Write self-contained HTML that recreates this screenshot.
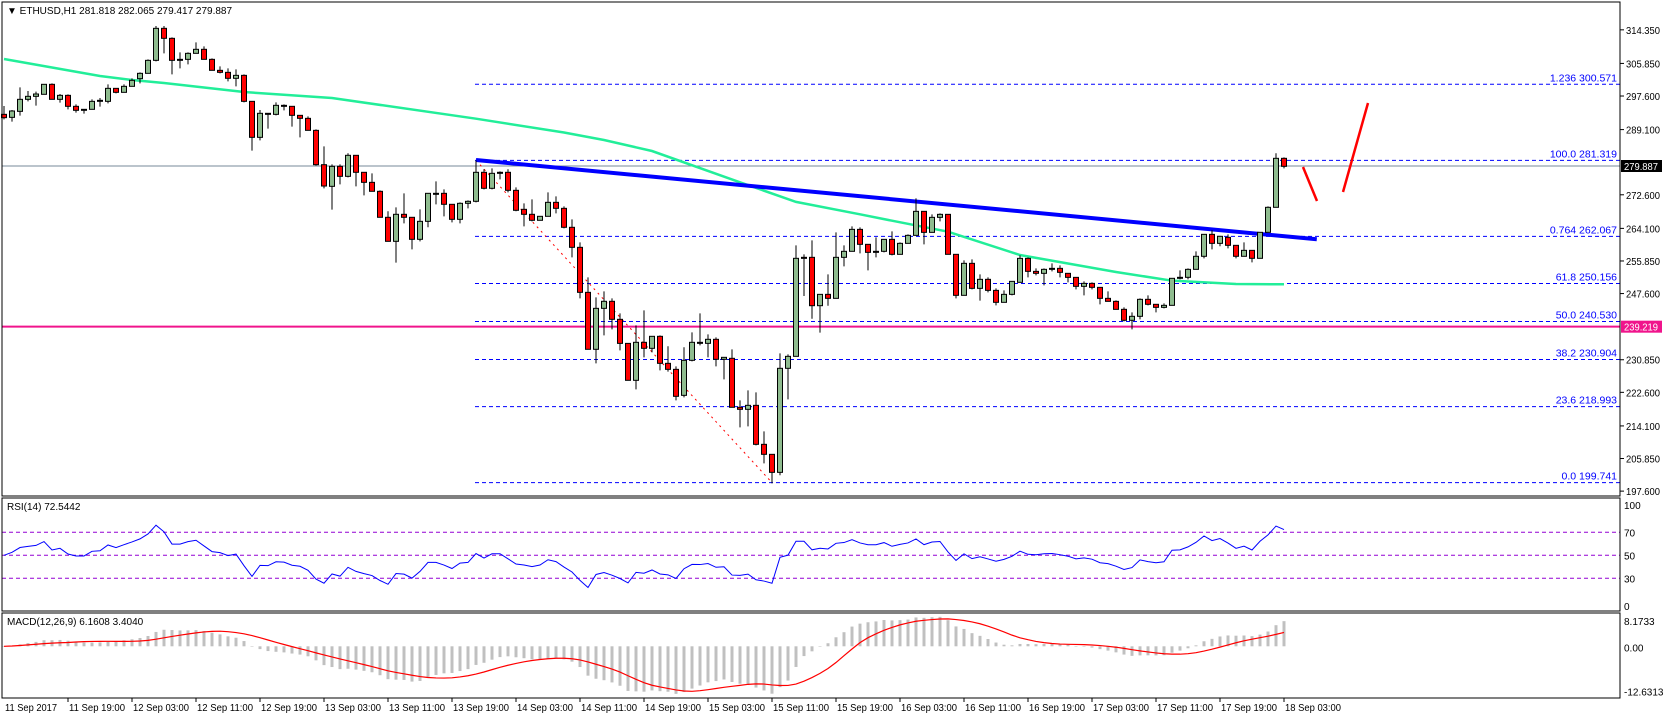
<!DOCTYPE html>
<html><head><meta charset="utf-8"><style>
html,body{margin:0;padding:0;background:#fff;}
svg{display:block;font-family:"Liberation Sans",sans-serif;}
</style></head><body>
<svg id="chart" width="1663" height="719" viewBox="0 0 1663 719" xmlns="http://www.w3.org/2000/svg">
<rect x="0" y="0" width="1663" height="719" fill="#fff"/>
<g id="main-g"></g>
<g id="rsi-g"></g>
<g id="macd-g"></g>
<g id="axis-g"></g>
<text x="7" y="14" font-size="10" fill="#000">▼ ETHUSD,H1  281.818 282.065 279.417 279.887</text>
</svg>
<script>
const opens=[292.96,292.20,293.72,296.76,297.52,298.03,300.56,296.76,297.77,294.99,294.23,294.23,296.34,296.25,299.54,298.53,300.05,301.99,303.34,306.63,314.73,312.20,306.88,306.88,308.40,309.42,306.88,304.10,303.59,302.08,302.83,296.25,287.14,293.22,292.96,295.24,294.99,292.71,291.95,288.91,280.22,274.74,279.80,277.27,282.59,278.29,275.75,273.48,266.90,260.82,267.66,266.90,261.33,265.88,272.97,272.97,270.19,266.39,270.44,270.95,278.29,274.24,278.29,278.29,273.73,268.92,267.66,266.14,267.15,270.69,269.17,264.37,259.30,247.91,233.49,243.86,245.64,241.08,234.99,225.64,235.26,233.74,236.78,229.94,228.42,221.84,230.70,235.26,235.00,236.02,230.96,231.21,218.81,218.30,219.31,209.44,206.91,202.35,228.68,231.71,256.77,256.77,244.53,247.40,246.39,256.77,258.29,263.85,260.06,258.29,258.29,261.32,257.53,260.31,262.33,268.41,263.09,266.89,267.65,257.53,247.15,255.25,248.92,251.20,248.41,245.38,247.40,250.44,256.51,253.22,252.72,253.73,253.98,252.72,251.70,249.43,250.18,249.17,246.39,245.63,243.61,240.83,241.84,246.14,244.88,244.11,244.62,251.46,251.71,253.73,257.03,262.59,260.31,261.83,259.81,257.03,258.54,256.52,263.10,269.43,281.83];
const highs=[295.07,294.06,299.80,298.87,298.70,300.56,300.81,298.11,298.03,295.49,294.23,296.76,297.10,300.56,299.54,300.56,302.08,303.59,306.88,315.32,315.32,312.45,308.66,308.66,311.19,310.17,307.14,305.11,304.61,304.35,303.09,296.25,294.06,293.22,296.00,295.49,294.99,292.71,292.46,289.17,284.86,280.31,280.31,283.10,282.59,278.29,278.03,273.73,268.42,269.43,272.97,266.90,268.92,272.97,276.01,273.98,270.19,270.69,271.20,281.32,279.05,279.30,278.54,279.05,274.49,270.44,271.45,267.15,273.22,272.21,269.68,266.39,260.57,251.71,246.65,248.17,246.39,242.60,234.99,239.56,243.36,236.78,237.03,234.25,229.18,234.00,237.79,242.60,237.28,236.52,231.46,233.49,220.58,223.11,222.60,212.73,206.91,232.47,232.22,259.81,257.53,261.07,247.40,252.46,263.09,259.80,264.61,264.36,260.06,261.83,261.32,263.35,260.56,262.59,271.70,268.41,267.65,267.90,267.65,257.53,256.01,256.26,252.46,251.70,248.92,248.41,250.69,257.27,256.77,253.98,253.98,255.25,254.74,252.72,251.70,250.69,250.44,249.17,248.16,245.88,244.11,242.85,246.39,247.15,244.88,245.13,251.46,253.48,253.99,258.29,262.59,263.61,262.09,262.59,259.81,260.57,258.54,263.10,269.68,283.10,282.08];
const lows=[291.70,291.11,292.63,296.25,295.16,298.03,296.76,295.92,294.23,293.39,293.13,294.23,294.90,295.75,298.28,298.53,300.05,300.81,303.34,306.38,308.40,303.09,304.61,305.62,308.40,306.88,304.10,303.34,301.32,300.05,296.00,283.77,286.38,289.34,292.71,293.98,289.84,287.14,288.91,279.97,274.23,268.84,275.25,277.02,274.74,272.46,273.48,266.90,260.82,255.42,265.38,258.80,260.82,264.37,270.19,267.15,265.63,265.38,269.17,270.69,273.98,273.98,276.51,273.22,268.42,264.62,265.88,266.14,267.15,267.91,264.11,256.77,246.39,233.49,229.94,237.03,238.55,233.23,225.64,223.36,231.46,232.73,228.17,227.83,220.58,221.34,230.45,234.50,231.46,229.18,225.89,218.81,213.74,214.00,209.19,204.63,199.57,201.60,220.83,231.71,246.98,241.24,237.70,244.53,246.39,254.49,258.29,257.78,253.48,256.77,258.03,257.27,257.53,260.31,262.33,260.06,263.09,265.88,257.53,246.39,247.15,248.67,245.80,247.91,244.62,245.38,247.15,250.44,251.70,252.21,249.68,253.22,251.70,250.44,248.67,247.15,248.67,244.87,245.63,243.60,240.57,238.55,241.08,244.62,242.85,243.86,244.62,251.20,251.20,253.73,256.52,258.80,259.56,259.05,256.52,257.03,255.51,256.52,263.10,269.43,279.30];
const closes=[292.12,293.81,296.76,297.52,298.11,300.56,296.76,297.77,294.99,293.98,293.98,296.25,296.51,299.54,298.53,300.05,301.57,303.34,306.63,314.73,312.20,306.63,306.63,308.40,309.42,306.88,304.10,303.59,302.08,302.83,296.25,287.14,293.22,292.96,295.24,294.99,292.71,291.95,288.91,280.22,274.82,279.80,277.27,282.59,278.29,275.75,273.48,266.90,260.82,267.66,266.90,261.33,265.88,272.97,272.97,270.19,266.39,270.44,270.95,278.29,274.24,278.03,278.03,273.73,268.67,267.66,266.14,267.15,270.69,269.17,264.37,259.30,247.91,233.49,243.86,245.64,241.08,234.99,225.64,235.26,233.74,236.78,229.94,228.42,221.59,230.70,235.26,235.00,236.02,230.96,231.46,218.81,218.30,219.31,209.44,206.91,202.35,228.68,231.71,256.52,256.51,244.53,247.40,246.39,256.77,258.29,263.85,260.06,258.03,258.03,261.32,257.53,260.31,262.33,268.41,263.09,266.89,267.65,257.53,247.15,255.25,248.92,251.20,248.41,245.38,247.40,250.69,256.51,253.22,252.72,253.73,253.98,252.97,251.70,249.43,250.18,249.17,246.39,245.63,243.60,240.83,241.84,246.14,244.88,244.11,244.62,251.46,251.71,253.73,257.03,262.59,260.31,262.09,259.81,257.03,258.54,256.52,263.10,269.43,281.83,279.80];
const maIdx=[0,12,16,20,30,41,59,70,75,81,92,99,107,111,118,127,139,146,154,160];
const maVal=[306.97,302.67,301.65,300.89,298.61,297.10,291.86,288.36,286.47,283.68,275.76,270.8,267.66,266.04,263.26,257.36,253.06,250.86,250.02,249.95];
const priceTicks=[314.350,305.850,297.600,289.100,272.600,264.100,255.850,247.600,230.850,222.600,214.100,205.850,197.600];
const fibLevels=["1.236","100.0","0.764","61.8","50.0","38.2","23.6","0.0"];
const fibPrices=[300.571,281.319,262.067,250.156,240.530,230.904,218.993,199.741];
const timeLabels=["11 Sep 2017","11 Sep 19:00","12 Sep 03:00","12 Sep 11:00","12 Sep 19:00","13 Sep 03:00","13 Sep 11:00","13 Sep 19:00","14 Sep 03:00","14 Sep 11:00","14 Sep 19:00","15 Sep 03:00","15 Sep 11:00","15 Sep 19:00","16 Sep 03:00","16 Sep 11:00","16 Sep 19:00","17 Sep 03:00","17 Sep 11:00","17 Sep 19:00","18 Sep 03:00"];
const rsiLevels=[70,50,30];
const rsiTicks=[100,70,50,30,0];
const macdTicks=["8.1733","0.00","-12.6313"];
const lastPrice=279.887, hLine=239.219;
const trendFrom=[59,281.4], trendTo=[164.1,261.34];
const fibFrom=[59,281.319], fibTo=[96,199.741];

const NS="http://www.w3.org/2000/svg";
const AXX=1620;
function xB(i){return 4+8*i;}
function yP(p){return 166+(279.887-p)*3.951;}
function yR(v){return 612.8-v*1.15;}
function yM(v){return 646.3-v*4.07;}
function mk(parent,tag,attrs){const e=document.createElementNS(NS,tag);for(const k in attrs)e.setAttribute(k,attrs[k]);parent.appendChild(e);return e;}
const mainG=document.getElementById('main-g'),rsiG=document.getElementById('rsi-g'),macdG=document.getElementById('macd-g'),axG=document.getElementById('axis-g');

let b=mk(axG,'rect',{x:2,y:2,width:AXX-2,height:494,fill:'none',stroke:'#000','stroke-width':1});

b=mk(axG,'rect',{x:2,y:498,width:AXX-2,height:113,fill:'none',stroke:'#000','stroke-width':1});

b=mk(axG,'rect',{x:2,y:613,width:AXX-2,height:85,fill:'none',stroke:'#000','stroke-width':1});


priceTicks.forEach(p=>{const y=yP(p);
 let t=mk(axG,'line',{x1:AXX,y1:y,x2:AXX+4,y2:y,stroke:'#000'});
 
 let tx=mk(axG,'text',{x:AXX+6,y:y+4,'font-size':10,fill:'#000',textLength:34,lengthAdjust:'spacingAndGlyphs'});tx.textContent=p.toFixed(3);
 });

fibPrices.forEach((p,k)=>{const y=yP(p);
 let l=mk(mainG,'line',{x1:xB(fibFrom[0])-1,y1:y,x2:AXX,y2:y,stroke:'#0000ff','stroke-dasharray':'4,3'});
 
 let tx=mk(mainG,'text',{x:AXX-3,y:y-3,'font-size':10.5,fill:'#0000ff','text-anchor':'end'});
 tx.textContent=fibLevels[k]+"  "+p.toFixed(3);
 });

let gl=mk(mainG,'line',{x1:2,y1:yP(lastPrice),x2:AXX,y2:yP(lastPrice),stroke:'#778899'});

let pl=mk(mainG,'line',{x1:2,y1:yP(hLine),x2:AXX,y2:yP(hLine),stroke:'#f0148c','stroke-width':2});


let maPts=maIdx.map((i,k)=>xB(i)+','+yP(maVal[k])).join(' ');
let ma=mk(mainG,'polyline',{points:maPts,fill:'none',stroke:'#22ee99','stroke-width':2.5});


let fd=mk(mainG,'line',{x1:xB(fibFrom[0]),y1:yP(fibFrom[1]),x2:xB(fibTo[0]),y2:yP(fibTo[1]),stroke:'#ff0000','stroke-dasharray':'2,4'});


let tl=mk(mainG,'line',{x1:xB(trendFrom[0]),y1:yP(trendFrom[1]),x2:xB(trendTo[0]),y2:yP(trendTo[1]),stroke:'#0000ff','stroke-width':4});


for(let i=0;i<opens.length;i++){const x=xB(i);const up=closes[i]>=opens[i];
 let w=mk(mainG,'line',{x1:x,y1:yP(highs[i]),x2:x,y2:yP(lows[i]),stroke:'#000'});
 
 const top=yP(Math.max(opens[i],closes[i])),bot=yP(Math.min(opens[i],closes[i]));
 let r=mk(mainG,'rect',{x:x-2.5,y:top,width:5,height:Math.max(1,bot-top),fill:up?'#8fbc8f':'#ff0000',stroke:'#000'});
 }

let a1=mk(mainG,'line',{x1:1303,y1:167,x2:1317,y2:201,stroke:'#ff0000','stroke-width':2.5});

let a2=mk(mainG,'line',{x1:1343,y1:192,x2:1368,y2:103,stroke:'#ff0000','stroke-width':2.5});


let bx=mk(axG,'rect',{x:AXX+1,y:yP(lastPrice)-6,width:41,height:12,fill:'#000'});

let bt=mk(axG,'text',{x:AXX+4,y:yP(lastPrice)+4,'font-size':10,fill:'#fff',textLength:34,lengthAdjust:'spacingAndGlyphs'});bt.textContent=lastPrice.toFixed(3);

let px=mk(axG,'rect',{x:AXX+1,y:yP(hLine)-6,width:41,height:12,fill:'#f0148c'});

let pt=mk(axG,'text',{x:AXX+4,y:yP(hLine)+4,'font-size':10,fill:'#fff',textLength:34,lengthAdjust:'spacingAndGlyphs'});pt.textContent=hLine.toFixed(3);


// RSI (Wilder 14) derived from closes, neutral seed
const rsi=[];let ag=1.2,al=1.2;
for(let i=0;i<closes.length;i++){
 if(i>0){const d=closes[i]-closes[i-1];ag=(ag*13+Math.max(d,0))/14;al=(al*13+Math.max(-d,0))/14;}
 rsi.push(al===0?100:100-100/(1+ag/al));}
rsiLevels.forEach(v=>{let l=mk(rsiG,'line',{x1:2,y1:yR(v),x2:AXX,y2:yR(v),stroke:'#9400d3','stroke-dasharray':'4,3'});
 });
rsiTicks.forEach(v=>{let y=Math.min(Math.max(yR(v),505),606);
 let tx=mk(axG,'text',{x:AXX+4,y:y+4,'font-size':10,fill:'#000'});tx.textContent=String(v);
 });
let rl=mk(rsiG,'polyline',{points:rsi.map((v,i)=>xB(i)+','+yR(v)).join(' '),fill:'none',stroke:'#0000ff','stroke-width':1});

let rt=mk(rsiG,'text',{x:7,y:510,'font-size':10,fill:'#000'});rt.textContent='RSI(14) 72.5442';


const macd=[],sig=[];let e12=closes[0],e26=closes[0];
for(let i=0;i<closes.length;i++){e12+=(closes[i]-e12)*2/13;e26+=(closes[i]-e26)*2/27;macd.push(e12-e26);
 const s=macd.slice(Math.max(0,i-8));sig.push(s.reduce((a,c)=>a+c,0)/s.length);}
const clampM=v=>Math.min(Math.max(yM(v),614),697);
macd.forEach((v,i)=>{const y0=yM(0),y1=clampM(v);
 let r=mk(macdG,'rect',{x:xB(i)-1.5,y:Math.min(y0,y1),width:3,height:Math.max(0.5,Math.abs(y1-y0)),fill:'#c0c0c0'});
 });
let sl=mk(macdG,'polyline',{points:sig.map((v,i)=>xB(i)+','+clampM(v)).join(' '),fill:'none',stroke:'#ff0000','stroke-width':1.2});

let mt=mk(macdG,'text',{x:7,y:625,'font-size':10,fill:'#000'});mt.textContent='MACD(12,26,9) 6.1608 3.4040';

const macdY=[621,647.7,691.7];
macdTicks.forEach((s,k)=>{let tx=mk(axG,'text',{x:AXX+4,y:macdY[k]+4,'font-size':10,fill:'#000'});tx.textContent=s;
 });

timeLabels.forEach((s,k)=>{const x=k===0?4:xB(8*k);
 if(k>0){let t=mk(axG,'line',{x1:x,y1:698,x2:x,y2:702,stroke:'#000'});
  }
 let tx=mk(axG,'text',{x:x+1,y:711,'font-size':10,fill:'#000',textLength:k===0?52:56,lengthAdjust:'spacingAndGlyphs'});tx.textContent=s;
 });
</script>
</body></html>
